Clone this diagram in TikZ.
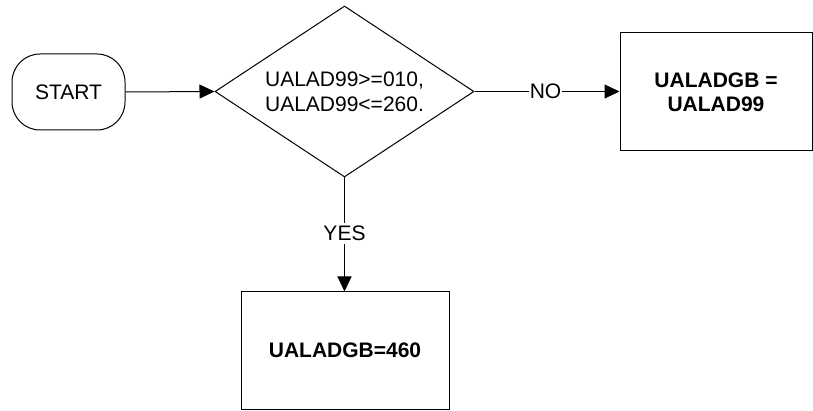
\documentclass[tikz,border=0pt]{standalone}
\usepackage{fontspec}
\setmainfont{Liberation Sans}
\usetikzlibrary{shapes.geometric,arrows.meta}
\begin{document}
\begin{tikzpicture}[x=1pt,y=-1pt,
  every node/.style={font=\fontsize{21}{25}\selectfont},
  base/.style={draw=black,line width=1pt,inner sep=0pt},
  startbox/.style={base,rectangle,rounded corners=28pt,minimum width=113pt,minimum height=76pt},
  dec/.style={base,diamond,aspect=1.515,minimum width=259pt,minimum height=171pt,align=center},
  procbox/.style={base,rectangle,align=center,font=\fontsize{21}{24}\selectfont\bfseries},
  conn/.style={draw=black,line width=1pt,-{Triangle[length=15pt,width=14pt]}},
  lab/.style={fill=white,inner xsep=0.5pt,inner ysep=3pt}
]
\useasboundingbox (0,0) rectangle (813,411);
\node[startbox] (start) at (68.5,92) {START};
\node[dec] (dec) at (344.5,91.5) {UALAD99>=010,\\UALAD99<=260.};
\node[procbox,minimum width=192pt,minimum height=118pt] (no) at (716,92) {UALADGB =\\UALAD99};
\node[procbox,minimum width=208pt,minimum height=117pt] (yes) at (345,350.5) {UALADGB=460};
\draw[conn] (start.east) -- (dec.west);
\draw[conn] (dec.east) -- node[lab,pos=0.49] {NO} (dec.east -| no.west);
\draw[conn] (dec.south) -- node[lab,pos=0.49] {YES} (dec.south |- yes.north);
\end{tikzpicture}
\end{document}
